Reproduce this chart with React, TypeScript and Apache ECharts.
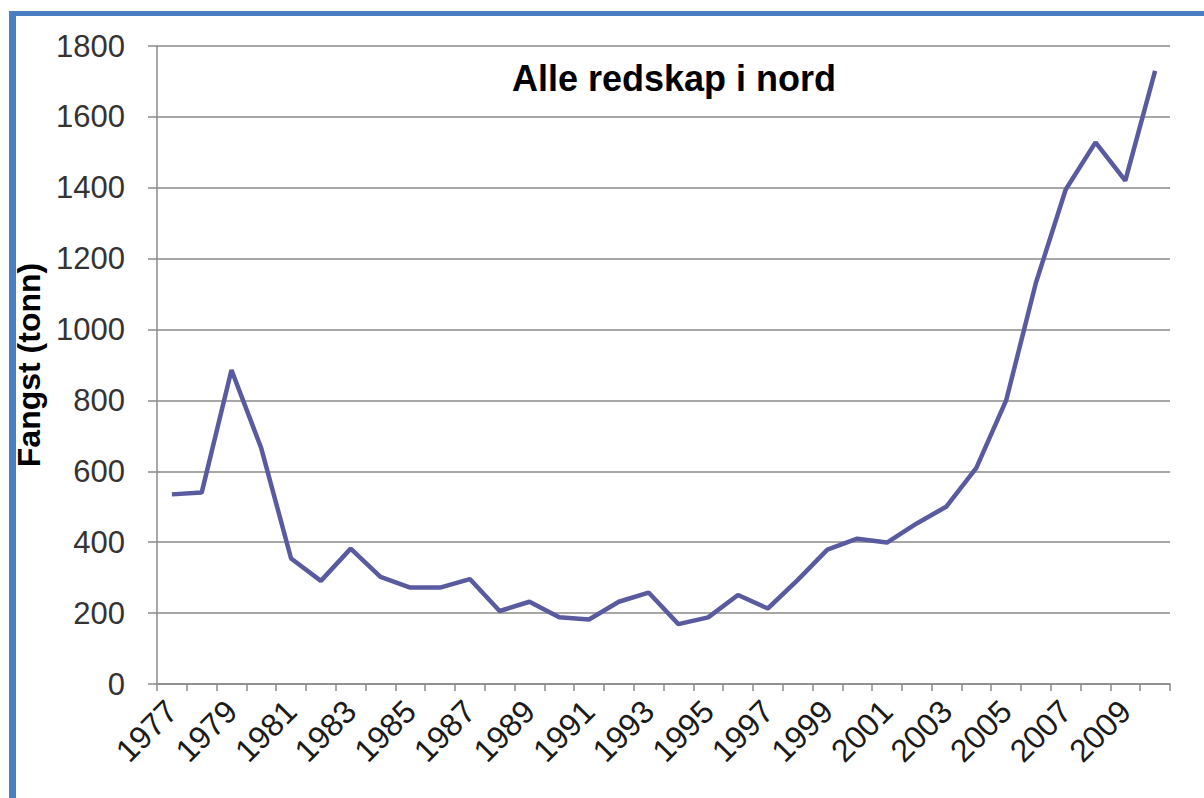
import React, { useEffect, useRef } from "react";
import * as echarts from "echarts";

const years: string[] = [
  "1977", "1978", "1979", "1980", "1981", "1982", "1983", "1984", "1985", "1986",
  "1987", "1988", "1989", "1990", "1991", "1992", "1993", "1994", "1995", "1996",
  "1997", "1998", "1999", "2000", "2001", "2002", "2003", "2004", "2005", "2006",
  "2007", "2008", "2009", "2010",
];

const catch_tonn: number[] = [
  535, 540, 886, 665, 354, 291, 382, 302, 272, 272,
  296, 206, 232, 188, 182, 232, 258, 169, 188, 251,
  213, 293, 379, 410, 399, 453, 501, 610, 800, 1132,
  1395, 1528, 1420, 1730,
];

const yTicks = { min: 0, max: 1800, interval: 200 };

const titleText = "Alle redskap i nord";
const yAxisName = "Fangst (tonn)";

export default function App() {
  const ref = useRef<HTMLDivElement>(null);

  useEffect(() => {
    if (!ref.current) return;
    const chart = echarts.init(ref.current, null, { renderer: "svg" });
    chart.setOption({
      animation: false,
      backgroundColor: "#ffffff",
      title: {
        text: titleText,
        left: 669,
        top: 55,
        textAlign: "center",
        textStyle: {
          fontFamily: "Liberation Sans, Arial, sans-serif",
          fontWeight: "bold",
          fontSize: 36,
          color: "#000000",
        },
      },
      graphic: [
        { type: "rect", shape: { x: 9, y: 11, width: 1195, height: 5 }, style: { fill: "#4a7ec2" }, silent: true },
        { type: "rect", shape: { x: 9, y: 11, width: 7, height: 787 }, style: { fill: "#4a7ec2" }, silent: true },
      ],
      grid: { left: 157, right: 34, top: 46, bottom: 114, containLabel: false },
      xAxis: {
        type: "category",
        data: years,
        boundaryGap: true,
        axisLine: { show: true, lineStyle: { color: "#8a8a8a", width: 1.5 } },
        axisTick: { show: true, interval: 0, length: 7, alignWithLabel: false, lineStyle: { color: "#8a8a8a", width: 1.5 } },
        axisLabel: {
          interval: 1,
          rotate: 45,
          margin: 22,
          fontFamily: "Liberation Sans, Arial, sans-serif",
          fontSize: 32,
          color: "#1a1a1a",
        },
        splitLine: { show: false },
      },
      yAxis: {
        type: "value",
        min: yTicks.min,
        max: yTicks.max,
        interval: yTicks.interval,
        name: yAxisName,
        nameLocation: "middle",
        nameGap: 104,
        nameRotate: 90,
        nameTextStyle: {
          fontFamily: "Liberation Sans, Arial, sans-serif",
          fontWeight: "bold",
          fontSize: 32,
          color: "#000000",
        },
        axisLine: { show: true, lineStyle: { color: "#8a8a8a", width: 1.5 } },
        axisTick: { show: true, length: 9, lineStyle: { color: "#8a8a8a", width: 1.5 } },
        axisLabel: {
          margin: 32,
          formatter: (v: number) => String(v),
          fontFamily: "Liberation Sans, Arial, sans-serif",
          fontSize: 31,
          color: "#333333",
        },
        splitLine: { show: true, lineStyle: { color: "#8a8a8a", width: 1.5 } },
      },
      series: [
        {
          type: "line",
          data: catch_tonn,
          symbol: "none",
          lineStyle: { color: "#5a5aa0", width: 4.5 },
          itemStyle: { color: "#5a5aa0" },
        },
      ],
    });
    return () => chart.dispose();
  }, []);

  return (
    <div
      ref={ref}
      style={{ position: "fixed", left: 0, top: 0, width: 1204, height: 798 }}
    />
  );
}
